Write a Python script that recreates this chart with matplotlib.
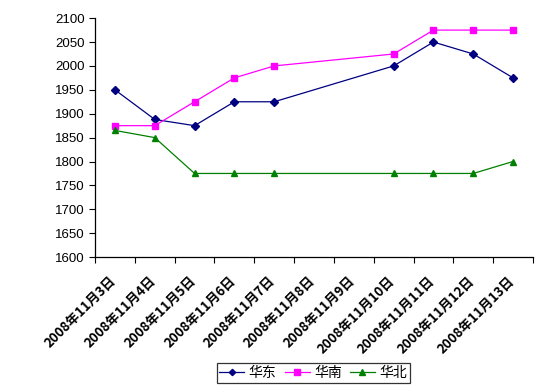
import numpy as np
import matplotlib
matplotlib.use("Agg")
import matplotlib.pyplot as plt

plt.rcParams['font.family'] = ['Noto Sans CJK SC', 'DejaVu Sans']

# data (None = no value that day)
dates = ['2008年11月3日', '2008年11月4日', '2008年11月5日', '2008年11月6日',
         '2008年11月7日', '2008年11月8日', '2008年11月9日', '2008年11月10日',
         '2008年11月11日', '2008年11月12日', '2008年11月13日']
huadong = [1950, 1888, 1875, 1925, 1925, None, None, 2000, 2050, 2025, 1975]
huanan = [1875, 1875, 1925, 1975, 2000, None, None, 2025, 2075, 2075, 2075]
huabei = [1865, 1850, 1775, 1775, 1775, None, None, 1775, 1775, 1775, 1800]

series = [
    ('华东', huadong, '#000080', 'D', 4),
    ('华南', huanan, '#FF00FF', 's', 5),
    ('华北', huabei, '#008000', '^', 5),
]

fig = plt.figure(figsize=(5.4, 3.86), dpi=100)
ax = fig.add_axes([0.176, 0.334, 0.811, 0.619])

x_all = np.arange(len(dates))
for name, vals, col, mk, ms in series:
    xs = [x for x, v in zip(x_all, vals) if v is not None]
    ys = [v for v in vals if v is not None]
    ax.plot(xs, ys, color=col, marker=mk, markersize=ms, linewidth=0.9,
            label=name)

ax.set_xlim(-0.5, len(dates) - 0.5)
ax.set_ylim(1600, 2100)
ax.set_yticks(np.arange(1600, 2101, 50))
ax.tick_params(axis='y', labelsize=9.5, length=4, width=0.8, direction='out')
for lab in ax.get_yticklabels():
    lab.set_fontfamily('Liberation Sans')

# category labels near centres, tick marks at boundaries
ax.set_xticks(x_all - 0.15)
ax.set_xticklabels(dates, rotation=45, ha='right', rotation_mode='anchor',
                   fontsize=9.5, fontweight='bold')
ax.tick_params(axis='x', which='major', length=0, pad=12)
ax.set_xticks(np.arange(-0.5, len(dates)), minor=True)
ax.tick_params(axis='x', which='minor', length=4, width=0.8, direction='out')

ax.spines['top'].set_visible(False)
ax.spines['right'].set_visible(False)
ax.spines['left'].set_linewidth(0.9)
ax.spines['bottom'].set_linewidth(0.9)

leg = fig.legend(loc='lower center', bbox_to_anchor=(0.58, -0.01), ncol=3,
                 frameon=True, fancybox=False, fontsize=10, handlelength=1.8,
                 columnspacing=0.6, handletextpad=0.3, borderpad=0.2,
                 markerscale=0.8)
leg.get_frame().set_edgecolor('black')
leg.get_frame().set_linewidth(0.9)

fig.savefig('out.png', dpi=100)
